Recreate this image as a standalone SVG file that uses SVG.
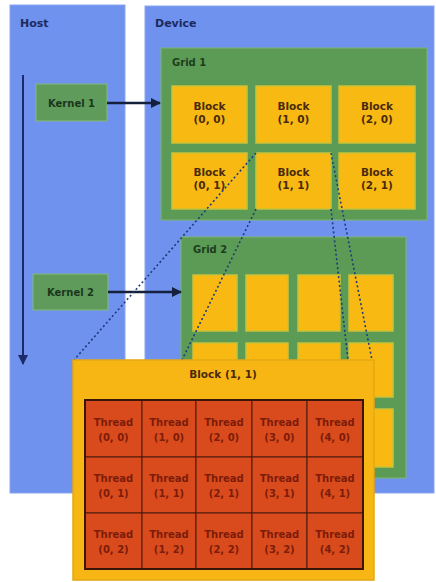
<svg xmlns="http://www.w3.org/2000/svg" width="436" height="582" viewBox="0 0 436 582">
<defs>
<style>
text{font-family:"DejaVu Sans","Liberation Sans",Arial,sans-serif;font-weight:bold;}
.panel{fill:#6f92ee;stroke:#8aa6f2;stroke-width:1}
.plabel{font-size:11px;fill:#1c2a5c}
.grid{fill:#5c9b56;stroke:#7fb46c;stroke-width:1}
.glabel{font-size:10px;fill:#1d3d1d}
.kernel{fill:#5f9c5c;stroke:#86b87a;stroke-width:1}
.klabel{font-size:10px;fill:#1b361b;text-anchor:middle}
.blk{fill:#f8ba12;stroke:#c9c23a;stroke-width:1.5}
.blabel{font-size:10.5px;fill:#4a2a0c;text-anchor:middle}
.thr{fill:#d94b1c;stroke:#4a1a0c;stroke-width:1}
.tlabel{font-size:10px;fill:#7c1c0a;text-anchor:middle}
.arrow{stroke:#14203c;stroke-width:2.5;fill:none}
.dash{stroke:#1d3b7c;stroke-width:1.6;stroke-dasharray:2 2.5;fill:none}
</style>
<marker id="ah" viewBox="0 0 10 10" refX="9" refY="5" markerWidth="4" markerHeight="4" orient="auto" markerUnits="strokeWidth">
<path d="M0,0 L10,5 L0,10 Z" fill="#14203c"/>
</marker>
<marker id="ah2" viewBox="0 0 10 10" refX="9" refY="5" markerWidth="5" markerHeight="5" orient="auto" markerUnits="strokeWidth">
<path d="M0,0 L10,5 L0,10 Z" fill="#1c2a6a"/>
</marker>
</defs>

<g id="host">
<rect class="panel" x="10" y="5" width="115" height="488"/>
<text class="plabel" x="20" y="27">Host</text>
</g>
<g id="device">
<rect class="panel" x="145" y="6" width="289" height="487"/>
<text class="plabel" x="155" y="27">Device</text>
</g>

<g id="kernel1">
<rect class="kernel" x="36" y="84" width="71" height="37"/>
<text class="klabel" x="71.5" y="107">Kernel 1</text>
</g>
<g id="kernel2">
<rect class="kernel" x="33" y="274" width="75" height="36"/>
<text class="klabel" x="70.5" y="296">Kernel 2</text>
</g>

<g id="grid1">
<rect class="grid" x="161" y="48" width="266" height="172"/>
<text class="glabel" x="172" y="66">Grid 1</text>
<g id="block-0-0"><rect class="blk" x="172" y="86" width="75" height="57"/><text class="blabel" x="209.5" y="110">Block</text><text class="blabel" x="209.5" y="123">(0, 0)</text></g>
<g id="block-1-0"><rect class="blk" x="256" y="86" width="75" height="57"/><text class="blabel" x="293.5" y="110">Block</text><text class="blabel" x="293.5" y="123">(1, 0)</text></g>
<g id="block-2-0"><rect class="blk" x="339" y="86" width="76" height="57"/><text class="blabel" x="377" y="110">Block</text><text class="blabel" x="377" y="123">(2, 0)</text></g>
<g id="block-0-1"><rect class="blk" x="172" y="153" width="75" height="56"/><text class="blabel" x="209.5" y="176">Block</text><text class="blabel" x="209.5" y="189">(0, 1)</text></g>
<g id="block-1-1"><rect class="blk" x="256" y="153" width="75" height="56"/><text class="blabel" x="293.5" y="176">Block</text><text class="blabel" x="293.5" y="189">(1, 1)</text></g>
<g id="block-2-1"><rect class="blk" x="339" y="153" width="76" height="56"/><text class="blabel" x="377" y="176">Block</text><text class="blabel" x="377" y="189">(2, 1)</text></g>
</g>

<g id="grid2">
<rect class="grid" x="181" y="237" width="225" height="241"/>
<text class="glabel" x="193" y="253">Grid 2</text>
<rect class="blk" x="193" y="275" width="44" height="56"/>
<rect class="blk" x="246" y="275" width="42" height="56"/>
<rect class="blk" x="298" y="275" width="42" height="56"/>
<rect class="blk" x="349" y="275" width="44" height="56"/>
<rect class="blk" x="193" y="343" width="44" height="54"/>
<rect class="blk" x="246" y="343" width="42" height="54"/>
<rect class="blk" x="298" y="343" width="42" height="54"/>
<rect class="blk" x="349" y="343" width="44" height="54"/>
<rect class="blk" x="193" y="409" width="44" height="58"/>
<rect class="blk" x="246" y="409" width="42" height="58"/>
<rect class="blk" x="298" y="409" width="42" height="58"/>
<rect class="blk" x="349" y="409" width="44" height="58"/>
</g>

<g id="connectors">
<line class="arrow" x1="107" y1="103" x2="160" y2="103" marker-end="url(#ah)"/>
<line class="arrow" x1="108" y1="292" x2="181" y2="292" marker-end="url(#ah)"/>
<line x1="23" y1="75" x2="23" y2="364" stroke="#1c2a6a" stroke-width="2" marker-end="url(#ah2)"/>
<line class="dash" x1="256" y1="153" x2="74" y2="360"/>
<line class="dash" x1="256" y1="209" x2="182" y2="360"/>
<line class="dash" x1="331" y1="209" x2="348" y2="360"/>
<line class="dash" x1="331" y1="153" x2="372" y2="360"/>
</g>

<g id="block-detail">
<rect x="73" y="360" width="301" height="220" fill="#f8b614" stroke="#e3a812" stroke-width="1.5"/>
<text class="blabel" x="223" y="378">Block (1, 1)</text>
<rect x="85" y="400" width="278" height="169" fill="#d94b1c" stroke="#3a160a" stroke-width="2"/>
<g id="thread-0-0"><rect class="thr" x="85" y="400" width="57" height="57"/><text class="tlabel" x="113.5" y="426">Thread</text><text class="tlabel" x="113.5" y="441">(0, 0)</text></g>
<g id="thread-1-0"><rect class="thr" x="142" y="400" width="54" height="57"/><text class="tlabel" x="169" y="426">Thread</text><text class="tlabel" x="169" y="441">(1, 0)</text></g>
<g id="thread-2-0"><rect class="thr" x="196" y="400" width="56" height="57"/><text class="tlabel" x="224" y="426">Thread</text><text class="tlabel" x="224" y="441">(2, 0)</text></g>
<g id="thread-3-0"><rect class="thr" x="252" y="400" width="55" height="57"/><text class="tlabel" x="279.5" y="426">Thread</text><text class="tlabel" x="279.5" y="441">(3, 0)</text></g>
<g id="thread-4-0"><rect class="thr" x="307" y="400" width="56" height="57"/><text class="tlabel" x="335" y="426">Thread</text><text class="tlabel" x="335" y="441">(4, 0)</text></g>
<g id="thread-0-1"><rect class="thr" x="85" y="457" width="57" height="56"/><text class="tlabel" x="113.5" y="482">Thread</text><text class="tlabel" x="113.5" y="497">(0, 1)</text></g>
<g id="thread-1-1"><rect class="thr" x="142" y="457" width="54" height="56"/><text class="tlabel" x="169" y="482">Thread</text><text class="tlabel" x="169" y="497">(1, 1)</text></g>
<g id="thread-2-1"><rect class="thr" x="196" y="457" width="56" height="56"/><text class="tlabel" x="224" y="482">Thread</text><text class="tlabel" x="224" y="497">(2, 1)</text></g>
<g id="thread-3-1"><rect class="thr" x="252" y="457" width="55" height="56"/><text class="tlabel" x="279.5" y="482">Thread</text><text class="tlabel" x="279.5" y="497">(3, 1)</text></g>
<g id="thread-4-1"><rect class="thr" x="307" y="457" width="56" height="56"/><text class="tlabel" x="335" y="482">Thread</text><text class="tlabel" x="335" y="497">(4, 1)</text></g>
<g id="thread-0-2"><rect class="thr" x="85" y="513" width="57" height="56"/><text class="tlabel" x="113.5" y="538">Thread</text><text class="tlabel" x="113.5" y="553">(0, 2)</text></g>
<g id="thread-1-2"><rect class="thr" x="142" y="513" width="54" height="56"/><text class="tlabel" x="169" y="538">Thread</text><text class="tlabel" x="169" y="553">(1, 2)</text></g>
<g id="thread-2-2"><rect class="thr" x="196" y="513" width="56" height="56"/><text class="tlabel" x="224" y="538">Thread</text><text class="tlabel" x="224" y="553">(2, 2)</text></g>
<g id="thread-3-2"><rect class="thr" x="252" y="513" width="55" height="56"/><text class="tlabel" x="279.5" y="538">Thread</text><text class="tlabel" x="279.5" y="553">(3, 2)</text></g>
<g id="thread-4-2"><rect class="thr" x="307" y="513" width="56" height="56"/><text class="tlabel" x="335" y="538">Thread</text><text class="tlabel" x="335" y="553">(4, 2)</text></g>
<rect x="85" y="400" width="278" height="169" fill="none" stroke="#3a160a" stroke-width="2"/>
</g>
</svg>
